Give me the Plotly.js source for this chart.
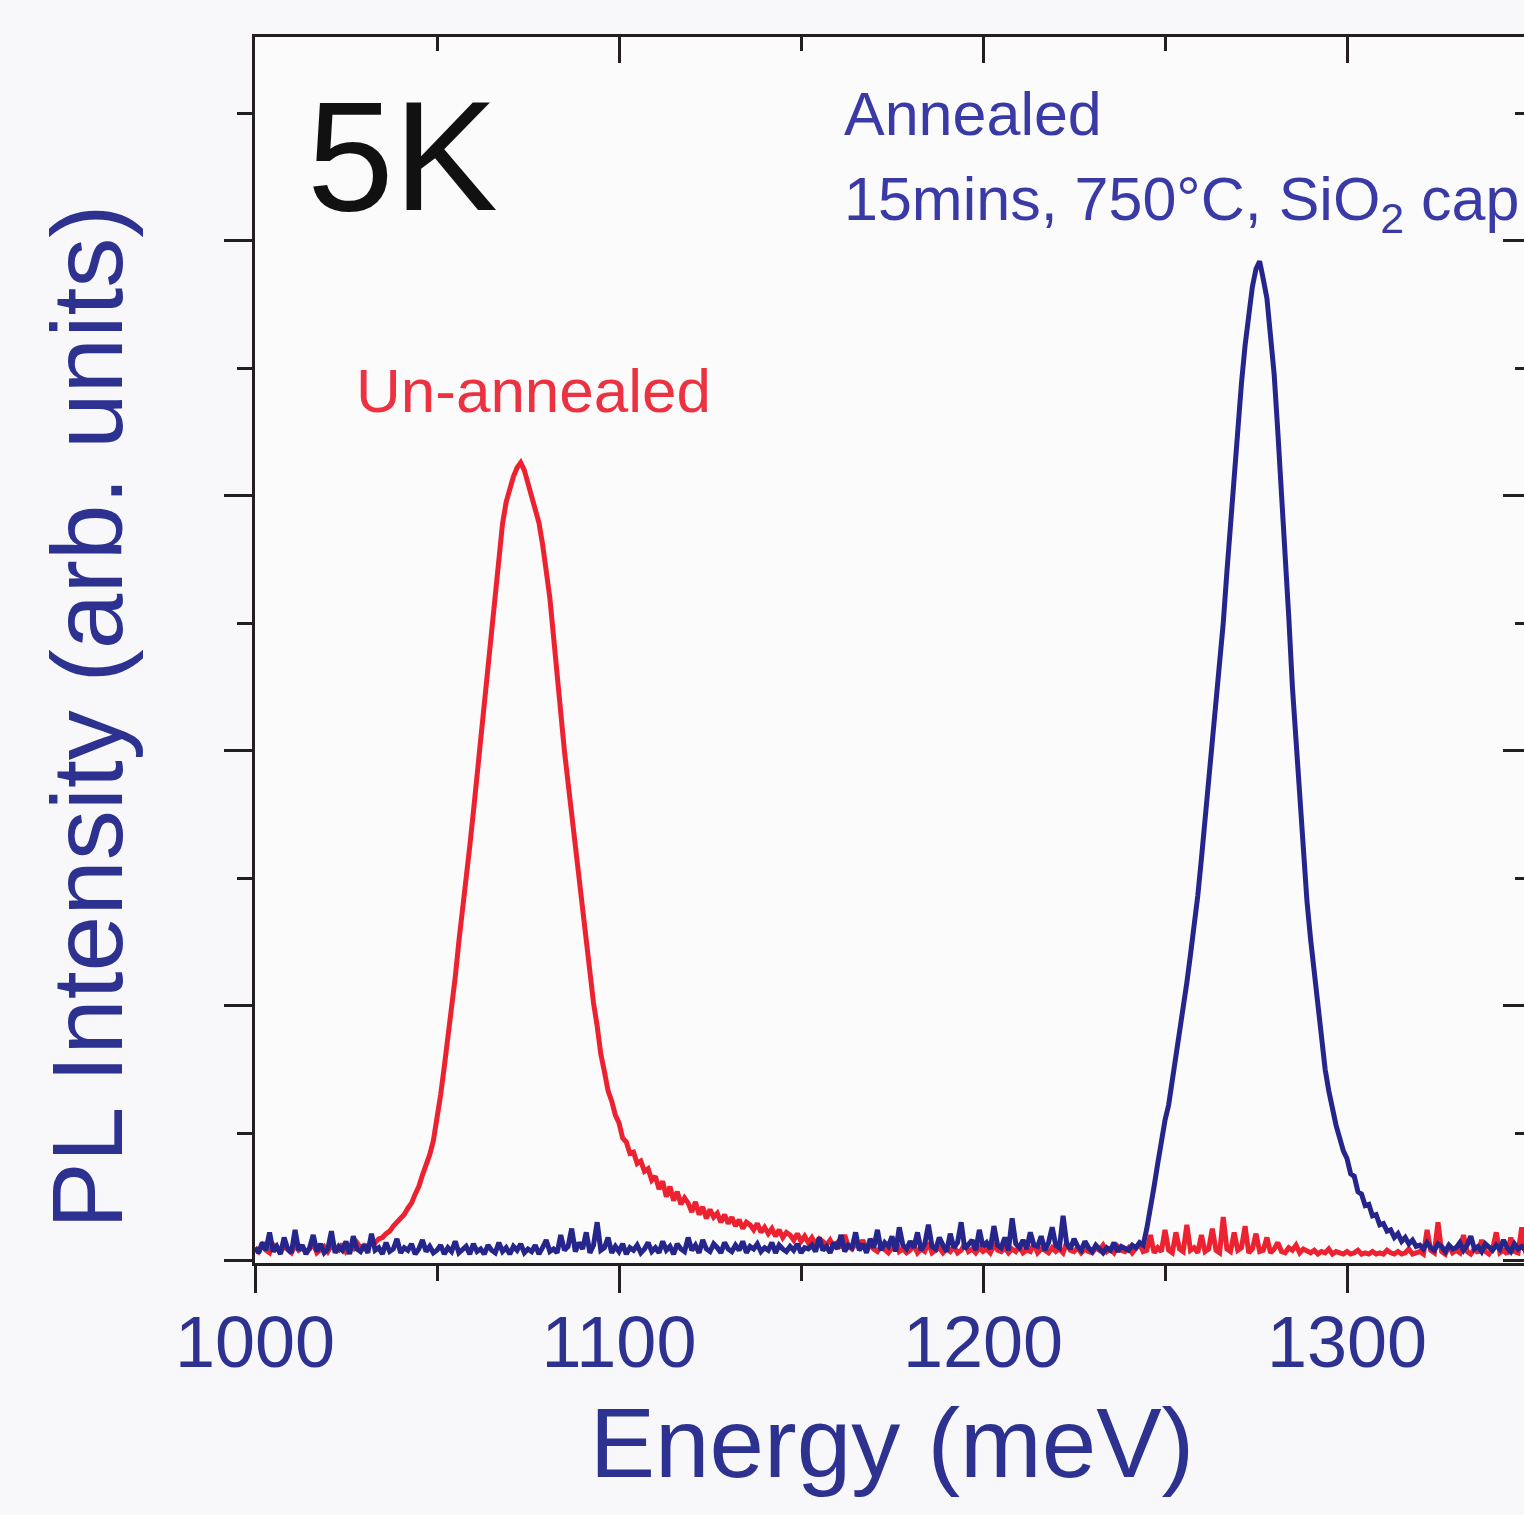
<!DOCTYPE html>
<html>
<head>
<meta charset="utf-8">
<script src="https://cdn.plot.ly/plotly-3.0.1.min.js"></script>
<style>
  html, body { margin: 0; padding: 0; overflow: hidden; background: #f8f8fa; }
  #chart { width: 1535px; height: 1515px; }
</style>
</head>
<body>
<div id="chart"></div>
<script>
// Energy grid (meV): first sample and spacing
const energyStart = 1000;
const energyStep = 1;

// Un-annealed PL spectrum, 1000..1350 meV (arb. units)
const unannealed = [
  0.10,0.07,0.12,0.08,0.06,0.13,0.09,0.07,0.11,0.08,
  0.06,0.12,0.08,0.10,0.07,0.09,0.13,0.06,0.08,0.11,
  0.07,0.12,0.09,0.08,0.13,0.07,0.10,0.09,0.14,0.10,
  0.12,0.11,0.15,0.14,0.17,0.18,0.21,0.23,0.27,0.30,
  0.34,0.36,0.41,0.45,0.52,0.58,0.67,0.74,0.83,0.94,
  1.10,1.30,1.52,1.74,1.96,2.22,2.50,2.78,3.02,3.25,
  3.52,3.80,4.10,4.40,4.70,5.00,5.28,5.55,5.78,5.95,
  6.07,6.15,6.22,6.26,6.20,6.10,6.02,5.90,5.79,5.62,
  5.43,5.20,4.90,4.58,4.30,4.00,3.75,3.50,3.25,3.00,
  2.76,2.52,2.27,2.02,1.84,1.62,1.48,1.33,1.25,1.14,
  1.08,0.96,0.93,0.84,0.85,0.76,0.78,0.70,0.72,0.63,
  0.66,0.56,0.62,0.50,0.58,0.47,0.54,0.44,0.49,0.45,
  0.38,0.46,0.36,0.42,0.33,0.40,0.34,0.37,0.30,0.36,
  0.29,0.34,0.27,0.32,0.25,0.30,0.28,0.24,0.29,0.22,
  0.26,0.21,0.25,0.19,0.24,0.18,0.22,0.20,0.16,0.21,
  0.15,0.19,0.14,0.18,0.13,0.17,0.15,0.12,0.16,0.11,
  0.14,0.10,0.20,0.11,0.09,0.13,0.10,0.16,0.08,0.12,
  0.09,0.07,0.11,0.08,0.06,0.10,0.17,0.07,0.09,0.06,
  0.08,0.12,0.06,0.09,0.07,0.14,0.06,0.08,0.10,0.06,
  0.09,0.07,0.11,0.06,0.08,0.13,0.07,0.09,0.06,0.10,
  0.07,0.09,0.06,0.12,0.08,0.07,0.10,0.06,0.09,0.07,
  0.11,0.06,0.08,0.07,0.13,0.06,0.09,0.08,0.06,0.10,
  0.07,0.09,0.06,0.14,0.08,0.07,0.10,0.06,0.09,0.07,
  0.06,0.10,0.08,0.12,0.07,0.09,0.06,0.11,0.08,0.07,
  0.10,0.06,0.09,0.13,0.07,0.08,0.20,0.06,0.10,0.07,
  0.24,0.08,0.06,0.22,0.09,0.07,0.28,0.08,0.10,0.06,
  0.20,0.07,0.09,0.25,0.08,0.06,0.34,0.09,0.07,0.22,
  0.08,0.10,0.27,0.06,0.09,0.21,0.07,0.08,0.18,0.06,
  0.09,0.14,0.07,0.06,0.10,0.08,0.12,0.06,0.09,0.07,
  0.06,0.08,0.05,0.07,0.06,0.09,0.05,0.07,0.06,0.05,
  0.07,0.05,0.06,0.08,0.05,0.06,0.05,0.07,0.05,0.06,
  0.05,0.08,0.06,0.05,0.07,0.05,0.06,0.09,0.05,0.06,
  0.07,0.05,0.24,0.08,0.06,0.30,0.07,0.05,0.12,0.06,
  0.08,0.06,0.20,0.07,0.05,0.09,0.06,0.16,0.07,0.05,
  0.09,0.22,0.06,0.08,0.05,0.18,0.07,0.06,0.26,0.08,0.10
];

// Annealed (15 mins, 750 C, SiO2 cap) PL spectrum, 1000..1350 meV
const annealed = [
  0.10,0.06,0.14,0.08,0.22,0.07,0.11,0.05,0.18,0.09,
  0.06,0.24,0.08,0.12,0.05,0.10,0.20,0.07,0.13,0.06,
  0.09,0.23,0.06,0.11,0.08,0.15,0.05,0.19,0.09,0.07,
  0.12,0.06,0.21,0.08,0.10,0.05,0.14,0.07,0.09,0.17,
  0.06,0.10,0.08,0.13,0.05,0.09,0.16,0.07,0.11,0.06,
  0.08,0.12,0.05,0.10,0.07,0.15,0.06,0.09,0.11,0.05,
  0.13,0.07,0.09,0.05,0.12,0.08,0.06,0.14,0.07,0.10,
  0.05,0.11,0.08,0.13,0.06,0.09,0.07,0.12,0.05,0.10,
  0.16,0.07,0.09,0.06,0.20,0.08,0.11,0.25,0.07,0.14,
  0.09,0.22,0.06,0.12,0.30,0.08,0.10,0.18,0.06,0.11,
  0.07,0.13,0.05,0.10,0.08,0.12,0.06,0.09,0.14,0.07,
  0.10,0.06,0.15,0.08,0.11,0.05,0.13,0.09,0.07,0.18,
  0.08,0.12,0.06,0.16,0.09,0.07,0.13,0.10,0.06,0.14,
  0.09,0.07,0.12,0.08,0.15,0.06,0.11,0.09,0.13,0.07,
  0.10,0.08,0.14,0.06,0.12,0.09,0.07,0.11,0.08,0.13,
  0.06,0.10,0.09,0.12,0.07,0.18,0.08,0.11,0.06,0.14,
  0.09,0.20,0.07,0.12,0.10,0.22,0.08,0.13,0.06,0.17,
  0.10,0.24,0.08,0.14,0.11,0.19,0.07,0.26,0.12,0.09,
  0.15,0.10,0.22,0.08,0.13,0.28,0.11,0.09,0.18,0.12,
  0.07,0.21,0.10,0.14,0.30,0.09,0.12,0.16,0.08,0.24,
  0.11,0.14,0.09,0.27,0.12,0.10,0.18,0.08,0.33,0.13,
  0.10,0.16,0.09,0.22,0.12,0.11,0.19,0.08,0.14,0.26,
  0.12,0.10,0.35,0.13,0.09,0.17,0.11,0.08,0.15,0.10,
  0.07,0.12,0.09,0.06,0.10,0.08,0.14,0.07,0.11,0.09,
  0.08,0.12,0.10,0.14,0.12,0.25,0.40,0.58,0.76,0.95,
  1.10,1.22,1.40,1.58,1.78,1.96,2.18,2.40,2.62,2.86,
  3.15,3.45,3.75,4.05,4.32,4.65,5.00,5.40,5.80,6.18,
  6.55,6.88,7.18,7.45,7.64,7.78,7.84,7.70,7.55,7.25,
  6.95,6.50,6.05,5.60,5.05,4.50,4.05,3.65,3.22,2.82,
  2.52,2.25,1.98,1.72,1.50,1.33,1.18,1.06,0.96,0.86,
  0.80,0.68,0.66,0.54,0.52,0.43,0.44,0.35,0.36,0.28,
  0.29,0.23,0.24,0.18,0.21,0.15,0.18,0.13,0.16,0.11,
  0.12,0.09,0.14,0.10,0.08,0.13,0.11,0.07,0.12,0.09,
  0.10,0.14,0.08,0.12,0.19,0.09,0.11,0.07,0.13,0.10,
  0.08,0.12,0.09,0.16,0.10,0.07,0.13,0.09,0.11,0.08,0.12
];

const xRange = [1000, 1350];
const yRange = [-0.02, 9.6];
const xMajorTicks = [1000, 1100, 1200, 1300];
const xTickLabels = ['1000', '1100', '1200', '1300'];

const FONT = 'Arial, "Liberation Sans", Helvetica, sans-serif';
const NAVY = '#2d3190';
const AXIS = '#231f20';

const traces = [
  {
    type: 'scatter', mode: 'lines', name: 'Un-annealed',
    x0: energyStart, dx: energyStep, y: unannealed,
    xaxis: 'x', yaxis: 'y',
    line: { color: '#ec2230', width: 5 },
    hoverinfo: 'skip'
  },
  {
    type: 'scatter', mode: 'lines', name: 'Annealed',
    x0: energyStart, dx: energyStep, y: annealed,
    xaxis: 'x2', yaxis: 'y2',
    line: { color: '#25258c', width: 5 },
    hoverinfo: 'skip'
  }
];

const layout = {
  width: 1535, height: 1515,
  margin: { l: 255, r: 6, t: 37, b: 252, pad: 0 },
  paper_bgcolor: '#f8f8fa',
  plot_bgcolor: '#fbfbfc',
  showlegend: false,
  font: { family: FONT, color: NAVY },
  xaxis: {
    range: xRange, tickmode: 'array', tickvals: xMajorTicks, ticktext: xTickLabels,
    ticks: 'outside', ticklen: 27, tickwidth: 3, tickcolor: AXIS,
    minor: { tickmode: 'linear', tick0: 1000, dtick: 50, ticks: 'outside', ticklen: 15, tickwidth: 3, tickcolor: AXIS, showgrid: false },
    showline: true, linecolor: AXIS, linewidth: 3, mirror: true,
    showgrid: false, zeroline: false,
    tickfont: { family: FONT, size: 72, color: NAVY },
    ticklabelstandoff: -12,
    title: { text: 'Energy (meV)', font: { family: FONT, size: 98, color: NAVY }, standoff: 27 }
  },
  yaxis: {
    range: yRange, tickmode: 'linear', tick0: 0, dtick: 2,
    ticks: 'outside', ticklen: 28, tickwidth: 3, tickcolor: AXIS,
    minor: { tickmode: 'linear', tick0: 0, dtick: 1, ticks: 'outside', ticklen: 15, tickwidth: 3, tickcolor: AXIS, showgrid: false },
    showticklabels: false,
    showline: true, linecolor: AXIS, linewidth: 3, mirror: true,
    showgrid: false, zeroline: false
  },
  xaxis2: {
    overlaying: 'x', side: 'top', anchor: 'y2', matches: 'x',
    range: xRange, tickmode: 'array', tickvals: xMajorTicks,
    ticks: 'inside', ticklen: 26, tickwidth: 3, tickcolor: AXIS,
    minor: { tickmode: 'linear', tick0: 1000, dtick: 50, ticks: 'inside', ticklen: 14, tickwidth: 3, tickcolor: AXIS, showgrid: false },
    showticklabels: false, showline: false, showgrid: false, zeroline: false
  },
  yaxis2: {
    overlaying: 'y', side: 'right', anchor: 'x2', matches: 'y',
    range: yRange, tickmode: 'linear', tick0: 0, dtick: 2,
    ticks: 'inside', ticklen: 26, tickwidth: 3, tickcolor: AXIS,
    minor: { tickmode: 'linear', tick0: 0, dtick: 1, ticks: 'inside', ticklen: 14, tickwidth: 3, tickcolor: AXIS, showgrid: false },
    showticklabels: false, showline: false, showgrid: false, zeroline: false
  },
  annotations: [
    { text: 'PL Intensity (arb. units)', xref: 'paper', yref: 'paper',
      x: -0.132, y: 0.446, xanchor: 'center', yanchor: 'middle', textangle: -90,
      showarrow: false, font: { family: FONT, size: 100, color: NAVY } },
    { text: '5K', xref: 'paper', yref: 'paper', x: 0.039, y: 0.903,
      xanchor: 'left', yanchor: 'middle', showarrow: false,
      font: { family: FONT, size: 156, color: '#111111' } },
    { text: 'Annealed', xref: 'paper', yref: 'paper', x: 0.461, y: 0.937,
      xanchor: 'left', yanchor: 'middle', showarrow: false,
      font: { family: FONT, size: 61, color: '#3a3aa6' } },
    { text: '15mins, 750°C, SiO<sub>2</sub> cap', xref: 'paper', yref: 'paper', x: 0.461, y: 0.864,
      xanchor: 'left', yanchor: 'middle', showarrow: false,
      font: { family: FONT, size: 61, color: '#3a3aa6' } },
    { text: 'Un-annealed', xref: 'paper', yref: 'paper', x: 0.078, y: 0.712,
      xanchor: 'left', yanchor: 'middle', showarrow: false,
      font: { family: FONT, size: 62, color: '#ec3240' } }
  ]
};

Plotly.newPlot('chart', traces, layout, { displayModeBar: false, staticPlot: true });
</script>
</body>
</html>
